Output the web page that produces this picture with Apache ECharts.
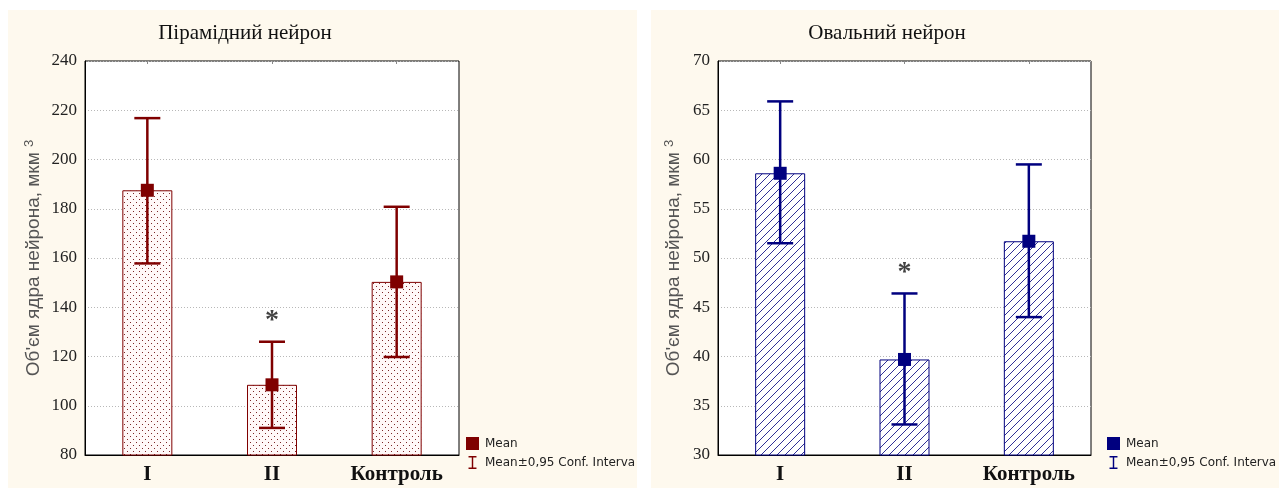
<!DOCTYPE html>
<html>
<head>
<meta charset="utf-8">
<script src="https://cdn.jsdelivr.net/npm/echarts@6/dist/echarts.min.js"></script>
<style>
html,body{margin:0;padding:0;background:#ffffff;}
#chart{width:1279px;height:488px;}
</style>
</head>
<body>
<div id="chart"></div>
<script>
// ---- data ----
const categories = ['I', 'II', 'Контроль'];
const leftTitle = 'Пірамідний нейрон';
const rightTitle = 'Овальний нейрон';
const leftMean = [187.5, 108.5, 150.3];
const leftLow = [157.8, 91.0, 119.8];
const leftHigh = [216.8, 126.0, 180.8];
const leftStar = [null, 137, null];
const rightMean = [58.6, 39.7, 51.7];
const rightLow = [51.5, 33.1, 44.0];
const rightHigh = [65.9, 46.4, 59.5];
const rightStar = [null, 49.1, null];
const leftTicks = {min: 80, max: 240, interval: 20};
const rightTicks = {min: 30, max: 70, interval: 5};
const legendMean = 'Mean';
const legendCI = 'Mean±0,95 Conf. Interval';

const RED = '#7f0000';
const NAVY = '#00007f';
const SERIF = 'Liberation Serif';
const SANS = 'Liberation Sans';

function dotPattern() {
  const c = document.createElement('canvas');
  c.width = 6; c.height = 6;
  const g = c.getContext('2d');
  g.fillStyle = '#fff8f8';
  g.fillRect(0, 0, 6, 6);
  g.fillStyle = 'rgba(110,15,15,0.9)';
  g.fillRect(1, 1, 1, 1);
  g.fillRect(4, 4, 1, 1);
  return c;
}
function hatchPattern() {
  const c = document.createElement('canvas');
  c.width = 8; c.height = 8;
  const g = c.getContext('2d');
  g.fillStyle = '#ffffff';
  g.fillRect(0, 0, 8, 8);
  g.strokeStyle = '#1a1a8a';
  g.lineWidth = 0.9;
  g.beginPath();
  g.moveTo(-1, 9); g.lineTo(9, -1);
  g.moveTo(-5, 5); g.lineTo(5, -5);
  g.moveTo(3, 13); g.lineTo(13, 3);
  g.stroke();
  return c;
}

const chart = echarts.init(document.getElementById('chart'), null, {renderer: 'canvas'});

function ciRender(color) {
  return function (params, api) {
    const x = api.value(0);
    const lo = api.coord([x, api.value(1)]);
    const hi = api.coord([x, api.value(2)]);
    const half = 13;
    const st = {stroke: color, lineWidth: 2.5};
    return {
      type: 'group',
      children: [
        {type: 'line', shape: {x1: lo[0], y1: lo[1], x2: hi[0], y2: hi[1]}, style: st},
        {type: 'line', shape: {x1: lo[0] - half, y1: lo[1], x2: lo[0] + half, y2: lo[1]}, style: st},
        {type: 'line', shape: {x1: hi[0] - half, y1: hi[1], x2: hi[0] + half, y2: hi[1]}, style: st}
      ]
    };
  };
}

const grids = [
  {left: 85, top: 61, width: 374, height: 394},
  {left: 718, top: 61, width: 373, height: 394}
];

function xAxes(gi) {
  return [
    {
      type: 'category', gridIndex: gi, data: categories, position: 'bottom',
      axisLine: {show: true, lineStyle: {color: '#000', width: 1}},
      axisTick: {show: true, inside: true, alignWithLabel: true, length: 3, lineStyle: {color: '#888'}},
      axisLabel: {fontFamily: SERIF, fontWeight: 'bold', fontSize: 21, color: '#111', margin: 9},
      splitLine: {show: false}
    },
    {
      type: 'category', gridIndex: gi, data: categories, position: 'top',
      axisLine: {show: false},
      axisTick: {show: true, inside: true, alignWithLabel: true, length: 3, lineStyle: {color: '#888'}},
      axisLabel: {show: false},
      splitLine: {show: false}
    }
  ];
}
function yAxis(gi, t, gap) {
  return {
    type: 'value', gridIndex: gi, min: t.min, max: t.max, interval: t.interval,
    axisLine: {show: true, lineStyle: {color: '#000', width: 1}},
    axisTick: {show: false},
    axisLabel: {fontFamily: SERIF, fontSize: 17, color: '#222', margin: 8},
    splitLine: {show: true, lineStyle: {color: '#b8b8b8', type: [1, 2], width: 1}},
    name: "Об'єм ядра нейрона, мкм {sup|3}",
    nameLocation: 'middle',
    nameGap: gap,
    nameRotate: 90,
    nameTextStyle: {
      fontFamily: SANS, fontSize: 19, color: '#555',
      rich: {sup: {fontFamily: SANS, fontSize: 13, color: '#555', verticalAlign: 'top', lineHeight: 22, padding: [0, 0, 11, 0]}}
    }
  };
}

function seriesFor(gi, mean, low, high, star, color, fill, suffix) {
  return [
    {
      type: 'bar', xAxisIndex: gi * 2, yAxisIndex: gi, data: mean, barWidth: 50,
      itemStyle: {color: {image: fill, repeat: 'repeat'}, borderColor: color, borderWidth: 1},
      silent: true, z: 2
    },
    {
      type: 'custom', name: 'CI' + suffix, xAxisIndex: gi * 2, yAxisIndex: gi,
      data: categories.map((c, i) => [i, low[i], high[i]]),
      renderItem: ciRender(color),
      itemStyle: {color: color},
      z: 3
    },
    {
      type: 'scatter', name: 'Mean' + suffix, xAxisIndex: gi * 2, yAxisIndex: gi,
      data: mean.map((v, i) => [i, v]), symbol: 'rect', symbolSize: 13,
      itemStyle: {color: color, opacity: 1}, z: 4
    },
    {
      type: 'scatter', xAxisIndex: gi * 2, yAxisIndex: gi,
      data: star.map((v, i) => v == null ? null : [i, v]).filter(d => d),
      symbolSize: 0, silent: true,
      label: {show: true, position: 'inside', formatter: '*', fontFamily: SERIF, fontWeight: 'bold', fontSize: 28, color: '#111', offset: [0, 6]},
      z: 5
    }
  ];
}

const ciIcon = 'path://M0,0H11V2H6.5V16H11V18H0V16H4.5V2H0Z';

function legendFor(left, suffix) {
  return {
    orient: 'vertical', left: left, top: 437, padding: 0, itemWidth: 13, itemHeight: 13, itemGap: 6,
    selectedMode: false,
    data: [{name: 'Mean' + suffix, icon: 'rect'}, {name: 'CI' + suffix, icon: ciIcon}],
    formatter: function (n) { return n.startsWith('Mean') ? legendMean : legendCI; },
    textStyle: {fontFamily: 'DejaVu Sans', fontSize: 12, color: '#222', padding: [0, 0, 0, 1], width: 152, overflow: 'truncate', ellipsis: ''}
  };
}

const option = {
  animation: false,
  backgroundColor: '#ffffff',
  graphic: [
    {type: 'rect', left: 8, top: 10, shape: {width: 629, height: 478}, style: {fill: '#fef9ee'}, z: -10, silent: true},
    {type: 'rect', left: 651, top: 10, shape: {width: 628, height: 478}, style: {fill: '#fef9ee'}, z: -10, silent: true}
  ],
  title: [
    {text: leftTitle, left: 240, top: 18, textAlign: 'center', textStyle: {fontFamily: SERIF, fontSize: 21, fontWeight: 'normal', color: '#111'}},
    {text: rightTitle, left: 882, top: 18, textAlign: 'center', textStyle: {fontFamily: SERIF, fontSize: 21, fontWeight: 'normal', color: '#111'}}
  ],
  grid: grids.map(g => Object.assign({show: true, backgroundColor: '#ffffff', borderColor: '#000', borderWidth: 1}, g)),
  xAxis: xAxes(0).concat(xAxes(1)),
  yAxis: [yAxis(0, leftTicks, 40), yAxis(1, rightTicks, 33)],
  legend: [legendFor(466, '_L'), legendFor(1107, '_R')],
  series: seriesFor(0, leftMean, leftLow, leftHigh, leftStar, RED, dotPattern(), '_L')
    .concat(seriesFor(1, rightMean, rightLow, rightHigh, rightStar, NAVY, hatchPattern(), '_R'))
};
chart.setOption(option);
</script>
</body>
</html>
